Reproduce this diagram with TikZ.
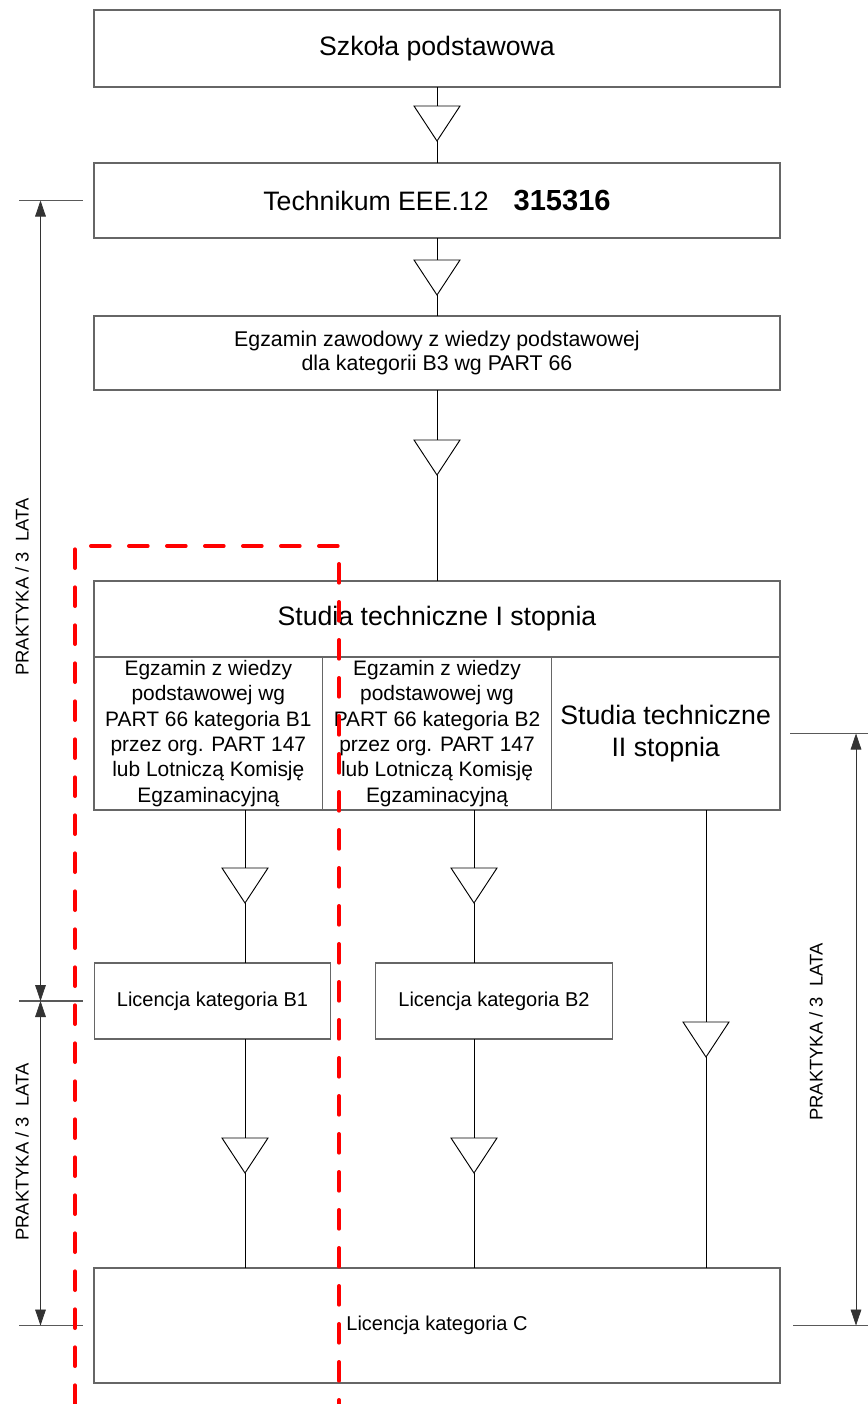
\documentclass[tikz,border=0pt]{standalone}
\usepackage{fontspec}
\setmainfont{Liberation Sans}
\usepackage{tikz}
\usetikzlibrary{arrows.meta,positioning}

% funnel-like triangle on a vertical stem: name, x, top y
\newcommand{\valve}[3]{%
  \coordinate (#1-top) at (#2,#3);
  \coordinate (#1-tip) at (#2,#3+35);
  \draw[valve] (#1-top) -- ++(23,0) -- (#1-tip) -- ++(-23,-35) -- cycle;}

\begin{document}
\begin{tikzpicture}[
    x=0.75pt, y=-0.75pt,
    box/.style={rectangle, draw=black!60, line width=0.9pt, inner sep=0pt, outer sep=0pt, minimum width=514.5pt, align=center, font=\fontsize{20}{24}\selectfont},
    subbox/.style={rectangle, draw=black!60, line width=0.9pt, inner sep=0pt, outer sep=0pt, minimum width=171.5pt, minimum height=114.75pt, align=center, font=\fontsize{15.7}{19}\selectfont},
    licbox/.style={rectangle, draw=black!60, line width=0.9pt, inner sep=0pt, outer sep=0pt, minimum width=177.5pt, minimum height=57pt, align=center, font=\fontsize{15}{18}\selectfont},
    link/.style={draw=black, line width=0.7pt},
    valve/.style={draw=black, line width=0.7pt, line join=miter},
    dim/.style={{Triangle[length=12pt,width=8pt]}-{Triangle[length=12pt,width=8pt]}, line width=0.6pt, draw=black!80},
    tick/.style={draw=black!65, line width=0.8pt},
    dimlabel/.style={rotate=90, inner sep=0pt, font=\fontsize{13.8}{16}\selectfont},
    redline/.style={draw=red, line width=3pt, line cap=round, dash pattern=on 14pt off 14.5pt}
]
\useasboundingbox[fill=white] (0,0) rectangle (868,1404);

% Main column
\node[box, minimum height=57.75pt] (primary) at (437,48.5) {Szkoła podstawowa};
\node[box, minimum height=56.25pt] (technikum) at (437,200.5) {Technikum EEE.12\hspace{18.75pt}{\fontsize{21.8}{24}\selectfont\bfseries 315316}};
\node[box, minimum height=55.5pt, font=\fontsize{16}{18}\selectfont] (egz-b3) at (437,353) {Egzamin zawodowy z wiedzy podstawowej\\dla kategorii B3 wg PART 66};
\node[box, minimum height=57pt] (studia1) at (437,619) {Studia techniczne I stopnia};

% Sub-boxes below the header
\node[subbox, anchor=north west] (egz-b1) at (studia1.south west) {Egzamin z wiedzy\\podstawowej wg\\PART 66 kategoria B1\\przez org. PART 147\\lub Lotniczą Komisję\\Egzaminacyjną};
\node[subbox, right=0pt of egz-b1] (egz-b2) {Egzamin z wiedzy\\podstawowej wg\\PART 66 kategoria B2\\przez org. PART 147\\lub Lotniczą Komisję\\Egzaminacyjną};
\node[subbox, right=0pt of egz-b2, font=\fontsize{20}{24}\selectfont] (studia2) {Studia techniczne\\II stopnia};

% Licences
\node[licbox] (lic-b1) at (212.5,1001) {Licencja kategoria B1};
\node[licbox] (lic-b2) at (494,1001) {Licencja kategoria B2};
\node[box, minimum height=86.25pt, font=\fontsize{15}{18}\selectfont] (lic-c) at (437,1325.5) {Licencja kategoria C};

% Triangles
\valve{v1}{437}{106}
\valve{v2}{437}{260}
\valve{v3}{437}{440}
\valve{v4}{245}{868}
\valve{v5}{474}{868}
\valve{v6}{706}{1022}
\valve{v7}{245}{1138}
\valve{v8}{474}{1138}

% Connections - main column
\draw[link] (primary.south) -- (v1-top);
\draw[link] (v1-tip) -- (technikum.north);
\draw[link] (technikum.south) -- (v2-top);
\draw[link] (v2-tip) -- (egz-b3.north);
\draw[link] (egz-b3.south) -- (v3-top);
\draw[link] (v3-tip) -- (studia1.north);

% Connections - exams to licences
\draw[link] (v4-top |- egz-b1.south) -- (v4-top);
\draw[link] (v4-tip) -- (v4-tip |- lic-b1.north);
\draw[link] (v5-top |- egz-b2.south) -- (v5-top);
\draw[link] (v5-tip) -- (v5-tip |- lic-b2.north);

% Connections - licences and II stopnia to C
\draw[link] (v7-top |- lic-b1.south) -- (v7-top);
\draw[link] (v7-tip) -- (v7-tip |- lic-c.north);
\draw[link] (v8-top |- lic-b2.south) -- (v8-top);
\draw[link] (v8-tip) -- (v8-tip |- lic-c.north);
\draw[link] (v6-top |- studia2.south) -- (v6-top);
\draw[link] (v6-tip) -- (v6-tip |- lic-c.north);

% Dimension lines (left)
\coordinate (d1) at (40.5,200.5);
\coordinate (d2) at (40.5,1001);
\coordinate (d3) at (40.5,1325.5);
\draw[tick] (19,200.5) -- (83,200.5);
\draw[tick] (19,1001) -- (83,1001);
\draw[tick] (19,1325.5) -- (83,1325.5);
\draw[dim] (d1) -- (d2);
\draw[dim] (d2) -- (d3);
\node[dimlabel] (prak1) at (22,587) {PRAKTYKA / 3 \ LATA};
\node[dimlabel] (prak2) at (22,1152) {PRAKTYKA / 3 \ LATA};

% Dimension line (right)
\coordinate (d4) at (856,733.5);
\coordinate (d5) at (856,1325.5);
\draw[tick] (790,733.5) -- (868,733.5);
\draw[tick] (793,1325.5) -- (868,1325.5);
\draw[dim] (d4) -- (d5);
\node[dimlabel] (prak3) at (816,1032) {PRAKTYKA / 3 \ LATA};

% Red dashed frame
\draw[redline] (75,1404) -- (75,546) -- (339,546) -- (339,1404);

\end{tikzpicture}
\end{document}
